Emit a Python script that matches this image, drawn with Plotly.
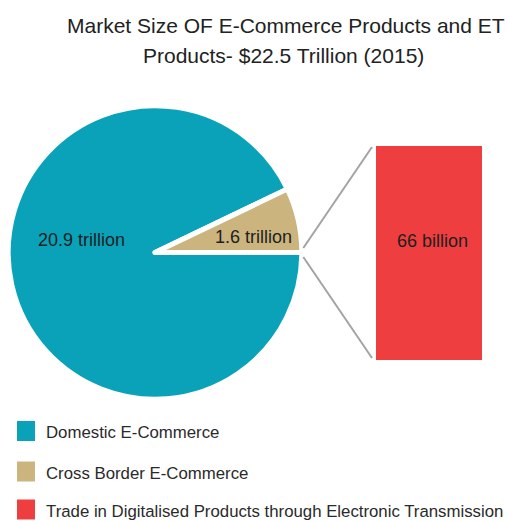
import plotly.graph_objects as go

# ---- data ----
pie_labels = ["Domestic E-Commerce", "Cross Border E-Commerce"]
pie_values = [20.9, 1.6]
pie_text = ["20.9 trillion", "1.6 trillion"]
bar_label = "Trade in Digitalised Products through Electronic Transmission"
bar_value = [66]
bar_text = ["66 billion"]
legend_labels = ["Domestic E-Commerce", "Cross Border E-Commerce", bar_label]
title_lines = ["Market Size OF E-Commerce Products and ET", "Products- $22.5 Trillion (2015)"]

# ---- style ----
W, H = 507, 521
TEAL = "#0aa2b9"
TAN = "#cbb47e"
RED = "#ef3e3f"
GREY = "#a3a3a3"
FONT = "Liberation Sans, Arial, sans-serif"
TXT = "#1e1e1e"
colors = {"Domestic E-Commerce": TEAL, "Cross Border E-Commerce": TAN, bar_label: RED}

def px_x(x):
    return x / W

def px_y(y):
    return 1 - y / H

def label(text, x, y, size, color=TXT, xanchor="center"):
    return dict(text=text, x=px_x(x), y=px_y(y), xref="paper", yref="paper",
                xanchor=xanchor, yanchor="middle", showarrow=False,
                font=dict(family=FONT, size=size, color=color))

BORDER = 5
# visible pie box in pixels
pie_l, pie_r, pie_t, pie_b = 10.7, 299.3, 108, 397
# bar box in pixels
bar_l, bar_r, bar_t, bar_b = 376, 482, 146, 360

fig = go.Figure()
fig.add_trace(go.Pie(
    labels=pie_labels, values=pie_values, sort=False,
    direction="clockwise", rotation=90,
    marker=dict(colors=[colors[l] for l in pie_labels], line=dict(color="white", width=BORDER)),
    textinfo="none", hoverinfo="label+value", showlegend=False,
    domain=dict(x=[px_x(pie_l - BORDER / 2), px_x(pie_r + BORDER / 2)],
                y=[px_y(pie_b + BORDER / 2), px_y(pie_t - BORDER / 2)]),
))
fig.add_trace(go.Bar(
    x=[0], y=bar_value, width=1, marker=dict(color=RED, line=dict(width=0)),
    showlegend=False, name=bar_label, xaxis="x", yaxis="y", hoverinfo="name+y",
))

cy = (pie_t + pie_b) / 2
annotations = [
    label(title_lines[0], 286, 25.5, 21, "#222222"),
    label(title_lines[1], 283, 56, 21, "#222222"),
    label(pie_text[0], 81, 240, 18),
    label(pie_text[1], 253, 236.5, 18),
    label(bar_text[0], 432.5, 240.5, 18),
]

shapes = [
    dict(type="line", xref="paper", yref="paper",
         x0=px_x(pie_r + 4), y0=px_y(cy - 4.5), x1=px_x(bar_l - 4), y1=px_y(bar_t + 1),
         line=dict(color=GREY, width=2)),
    dict(type="line", xref="paper", yref="paper",
         x0=px_x(pie_r + 4), y0=px_y(cy + 4.5), x1=px_x(bar_l - 4), y1=px_y(bar_b - 2),
         line=dict(color=GREY, width=2)),
]

# legend drawn manually
leg_y = [431, 471.5, 509.5]
for lab, yy in zip(legend_labels, leg_y):
    shapes.append(dict(type="rect", xref="paper", yref="paper",
                       x0=px_x(17), x1=px_x(35), y0=px_y(yy - 10), y1=px_y(yy + 10),
                       fillcolor=colors[lab], line=dict(width=0)))
    annotations.append(label(lab, 44, yy + 1.5, 16.8, "#2a2a2a", xanchor="left"))

fig.update_layout(
    width=W, height=H, margin=dict(l=0, r=0, t=0, b=0),
    paper_bgcolor="white", plot_bgcolor="white",
    xaxis=dict(domain=[px_x(bar_l), px_x(bar_r)], range=[-0.5, 0.5], visible=False, fixedrange=True),
    yaxis=dict(domain=[px_y(bar_b), px_y(bar_t)], range=[0, bar_value[0]], visible=False, fixedrange=True),
    shapes=shapes, annotations=annotations, bargap=0,
)
fig.write_html("out.html", config={"displayModeBar": False},
               post_script="document.body.style.margin='0';document.body.style.overflow='hidden';")
